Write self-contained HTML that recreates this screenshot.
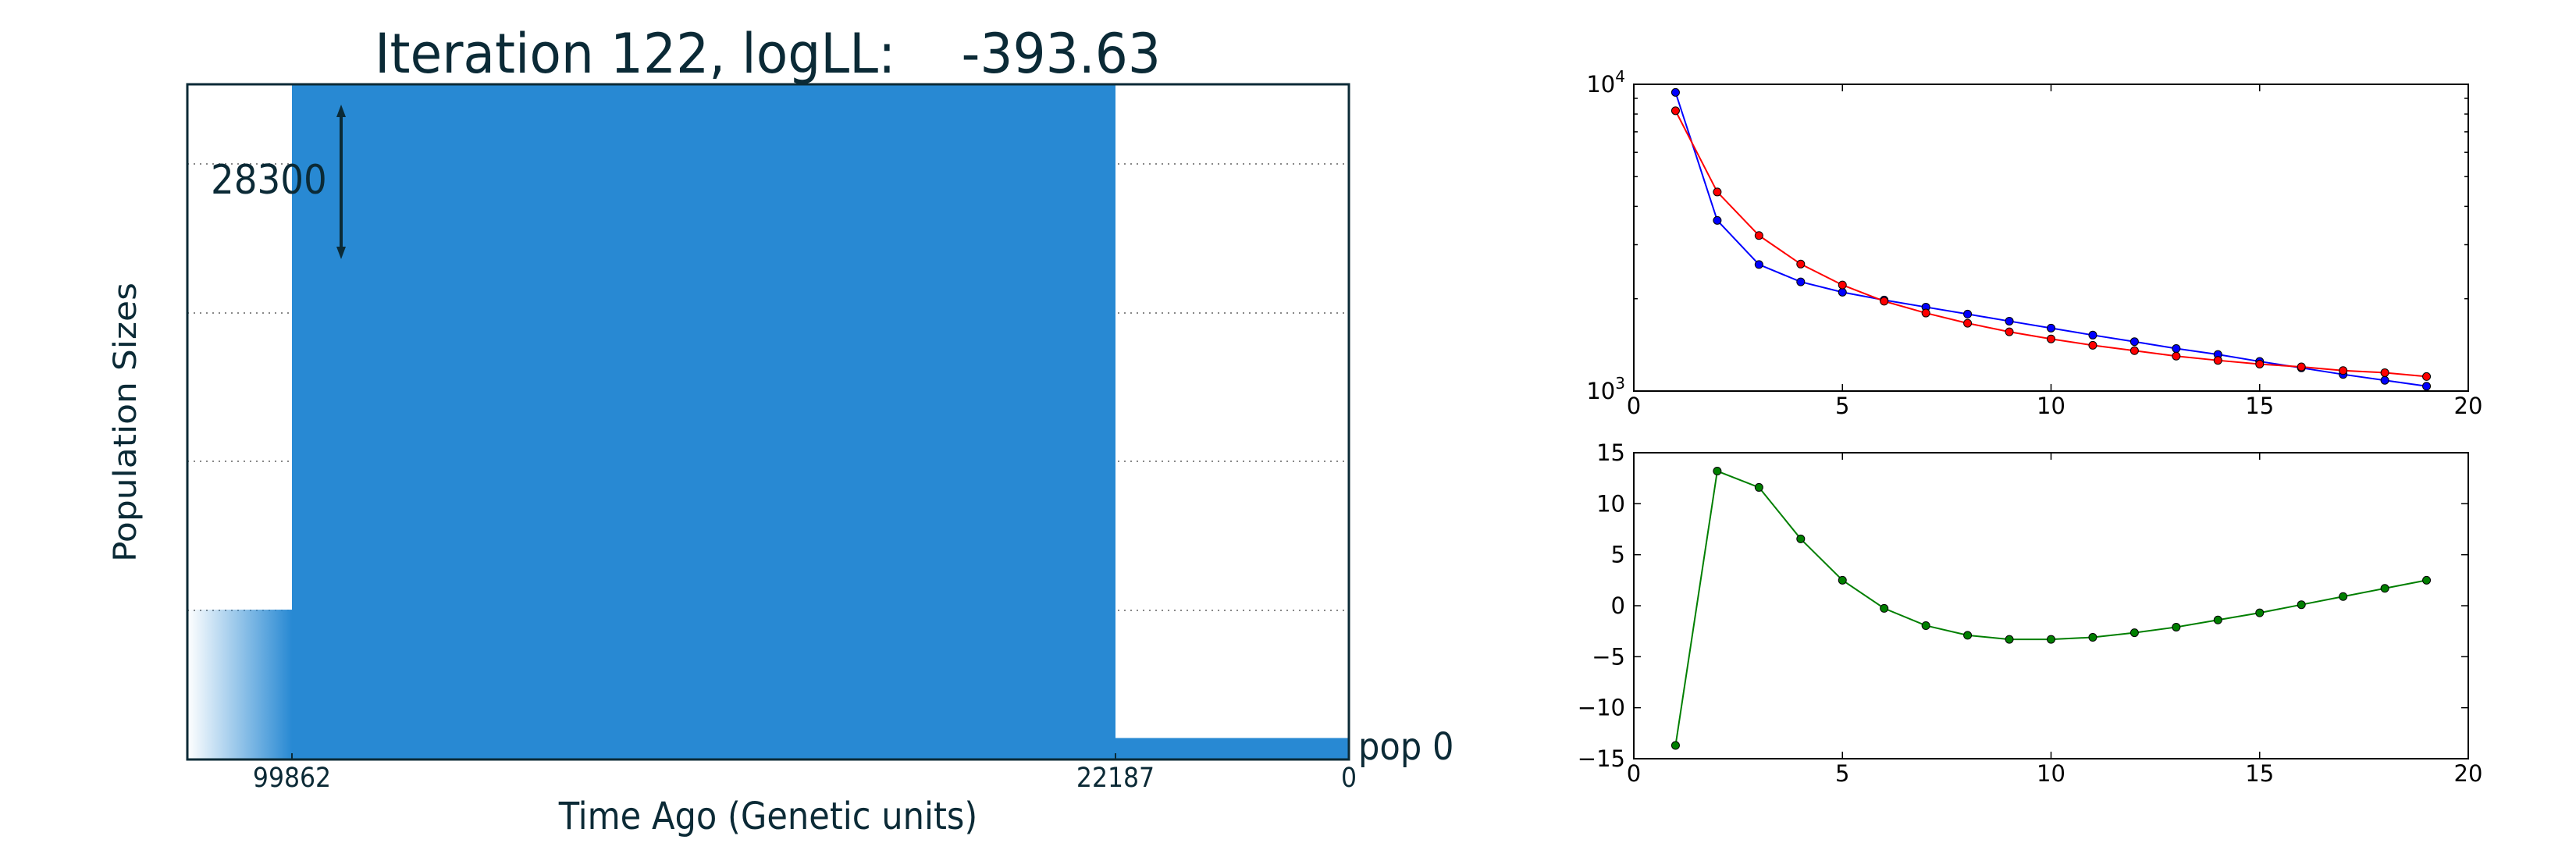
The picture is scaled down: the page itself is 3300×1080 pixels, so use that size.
<!DOCTYPE html>
<html><head><meta charset="utf-8"><style>
html,body{margin:0;padding:0;background:#fff;}
svg{display:block;}
.c{font-family:"DejaVu Sans Condensed","Liberation Sans Narrow","DejaVu Sans",sans-serif;fill:#0b2a36;}
.w{font-family:"DejaVu Sans","Liberation Sans",sans-serif;fill:#0b2a36;}
.t{font-family:"DejaVu Sans","Liberation Sans",sans-serif;fill:#000;font-size:29px;}
</style></head><body>
<svg id="fig" width="3300" height="1080" viewBox="0 0 3300 1080" xmlns="http://www.w3.org/2000/svg">
<defs>
<linearGradient id="grad" x1="0" x2="1" y1="0" y2="0">
<stop offset="0" stop-color="#2889d3" stop-opacity="0"/>
<stop offset="1" stop-color="#2889d3" stop-opacity="1"/>
</linearGradient>
</defs>
<g id="left"></g>
<g id="top"></g>
<g id="bot"></g>
</svg>
<script>
const NS="http://www.w3.org/2000/svg";
// left chart data
const epochLabels=["99862","22187","0"];
const epochSizes=[6280,28300,900]; // segment heights (oldest → recent)
const sizeLabel="28300";
// top chart data
const xs=[1,2,3,4,5,6,7,8,9,10,11,12,13,14,15,16,17,18,19];
const blueVals=[9410,3600,2585,2270,2100,1980,1878,1782,1690,1604,1522,1449,1376,1316,1249,1190,1133,1084,1037];
const redVals=[8200,4457,3214,2594,2217,1963,1796,1664,1560,1479,1410,1354,1300,1259,1224,1199,1166,1148,1115];
// bottom chart data
const greenVals=[-13.7,13.2,11.6,6.55,2.5,-0.26,-1.95,-2.9,-3.3,-3.3,-3.1,-2.65,-2.1,-1.4,-0.7,0.1,0.9,1.7,2.5];
const xTicks=[0,5,10,15,20];
const bTicks=[-15,-10,-5,0,5,10,15];
const bTickLabels=["\u221215","\u221210","\u22125","0","5","10","15"];

function mk(tag,attrs,parent,text){const e=document.createElementNS(NS,tag);for(const k in attrs)e.setAttribute(k,attrs[k]);if(text!==undefined)e.textContent=text;parent.appendChild(e);return e;}

// ---------- left ----------
const L=document.getElementById('left');
const LX0=240,LX1=1728,LY0=108,LY1=973;
const segX=[LX0,374,1429,LX1];
[210,401,591,782].forEach((y,i)=>{const g=mk('line',{x1:LX0,x2:LX1,y1:y,y2:y,stroke:'#888','stroke-width':2,'stroke-dasharray':'2,6'},L);

});
const scaleH=(LY1-LY0)/28300;
for(let i=0;i<3;i++){
 const h=epochSizes[i]*scaleH;
 const r=mk('rect',{x:segX[i],y:LY1-h,width:segX[i+1]-segX[i],height:h,fill:i==0?'url(#grad)':'#2889d3'},L);
 
 
}
let fr=mk('rect',{x:LX0,y:LY0,width:LX1-LX0,height:LY1-LY0,fill:'none',stroke:'#0b2a36','stroke-width':3},L);

[[segX[1],epochLabels[0]],[segX[2],epochLabels[1]],[LX1,epochLabels[2]]].forEach(([x,t])=>{
 mk('line',{x1:x,x2:x,y1:LY1,y2:LY1-8,stroke:'#0b2a36','stroke-width':2},L);
 const tx=mk('text',{x:x,y:1008,'text-anchor':'middle',class:'c','font-size':35},L,t);
 
});
const A=mk('g',{},L);
mk('line',{x1:437,x2:437,y1:142,y2:324,stroke:'#0b2a36','stroke-width':4},A);
mk('polygon',{points:'437,134 431,150 443,150',fill:'#0b2a36'},A);
mk('polygon',{points:'437,332 431,316 443,316',fill:'#0b2a36'},A);
let sl=mk('text',{x:270,y:248,class:'c','font-size':52},L,sizeLabel);

let tt=mk('text',{x:480,y:93,class:'c','font-size':70,textLength:1007,lengthAdjust:'spacingAndGlyphs'},L,'Iteration 122, logLL:\u00a0\u00a0\u00a0\u00a0-393.63');

let xl=mk('text',{x:984,y:1062,'text-anchor':'middle',class:'c','font-size':48},L,'Time Ago (Genetic units)');

let pl=mk('text',{x:1740,y:973,class:'c','font-size':48},L,'pop 0');

let yl=mk('text',{x:-179,y:0,class:'w','font-size':40,textLength:358,lengthAdjust:'spacingAndGlyphs',transform:'translate(174,541) rotate(-90)'},L,'Population Sizes');


// ---------- right panels ----------
const RX0=2093,RX1=3162;
const px=v=>RX0+(v/20)*(RX1-RX0);
function frame(g,y0,y1,name){
 const r=mk('rect',{x:RX0,y:y0,width:RX1-RX0,height:y1-y0,fill:'none',stroke:'#000','stroke-width':2},g);
 
 xTicks.forEach(t=>{const x=px(t);
  mk('line',{x1:x,x2:x,y1:y1,y2:y1-9,stroke:'#000','stroke-width':1.5},g);
  mk('line',{x1:x,x2:x,y1:y0,y2:y0+9,stroke:'#000','stroke-width':1.5},g);
  const tx=mk('text',{x:x,y:y1+29,'text-anchor':'middle',class:'t'},g,String(t));
  
 });
}
function series(g,vals,yf,color,name){
 const pts=xs.map((x,i)=>px(x)+','+yf(vals[i])).join(' ');
 const pl=mk('polyline',{points:pts,fill:'none',stroke:color,'stroke-width':2},g);
 
 xs.forEach((x,i)=>{const c=mk('circle',{cx:px(x),cy:yf(vals[i]),r:5,fill:color,stroke:'#000','stroke-width':1},g);
  });
}
const T=document.getElementById('top');
const TY0=108,TY1=501;
const ty=v=>TY1-(Math.log10(v)-3)*(TY1-TY0);
frame(T,TY0,TY1,'top-frame');
for(let m=2;m<=9;m++){const y=ty(m*1000);
 mk('line',{x1:RX0,x2:RX0+5,y1:y,y2:y,stroke:'#000','stroke-width':1.5},T);
 mk('line',{x1:RX1,x2:RX1-5,y1:y,y2:y,stroke:'#000','stroke-width':1.5},T);}
[[3,TY1],[4,TY0]].forEach(([e,y])=>{
 const t=mk('text',{x:2082,y:y+10,'text-anchor':'end',class:'t'},T);
 
 mk('tspan',{},t,'10');mk('tspan',{dy:-13,'font-size':20},t,String(e));
});
series(T,blueVals,ty,'#0000ff','blue-series');
series(T,redVals,ty,'#ff0000','red-series');
const B=document.getElementById('bot');
const BY0=580,BY1=972;
const by=v=>BY1-((v+15)/30)*(BY1-BY0);
frame(B,BY0,BY1,'bottom-frame');
bTicks.forEach((t,i)=>{const y=by(t);
 mk('line',{x1:RX0,x2:RX0+9,y1:y,y2:y,stroke:'#000','stroke-width':1.5},B);
 mk('line',{x1:RX1,x2:RX1-9,y1:y,y2:y,stroke:'#000','stroke-width':1.5},B);
 const tx=mk('text',{x:2082,y:y+10,'text-anchor':'end',class:'t'},B,bTickLabels[i]);
 
});
series(B,greenVals,by,'#007f00','green-series');
</script>
</body></html>
